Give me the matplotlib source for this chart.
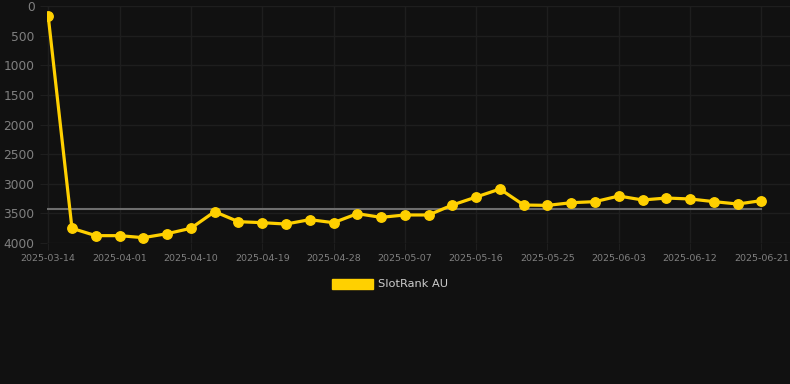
import numpy as np
import matplotlib.pyplot as plt
from matplotlib.patches import Patch

# data (rank, lower is better)
dates = ['2025-03-14', '2025-03-26', '2025-03-29', '2025-04-01', '2025-04-04', '2025-04-07',
         '2025-04-10', '2025-04-13', '2025-04-16', '2025-04-19', '2025-04-22', '2025-04-25',
         '2025-04-28', '2025-05-01', '2025-05-04', '2025-05-07', '2025-05-10', '2025-05-13',
         '2025-05-16', '2025-05-19', '2025-05-22', '2025-05-25', '2025-05-28', '2025-05-31',
         '2025-06-03', '2025-06-06', '2025-06-09', '2025-06-12', '2025-06-15', '2025-06-18',
         '2025-06-21']
rank = [170, 3752, 3876, 3876, 3910, 3843, 3752, 3471, 3640, 3657, 3680, 3606, 3657,
        3505, 3567, 3527, 3527, 3359, 3224, 3089, 3359, 3365, 3320, 3302, 3207, 3274,
        3241, 3257, 3302, 3342, 3285]
avg_rank = 3425
series_name = 'SlotRank AU'

bg = '#111111'
gridc = '#1e1e1e'
textc = '#808080'
gold = '#FFD000'

fig = plt.figure(figsize=(7.9, 3.84), dpi=100, facecolor=bg)
ax = fig.add_axes([47/790, 1-243/384, 1-47/790, 237/384])
ax.set_facecolor(bg)

x = np.arange(len(rank))
ax.plot([x[0], x[-1]], [avg_rank, avg_rank], color='#6e6e6e', lw=1.5, zorder=2)
ax.plot(x, rank, color=gold, lw=2.3, marker='o', ms=6.8, zorder=3)

ax.set_xlim(-0.05, 31.2)
ax.set_ylim(4000, 0)
ax.set_yticks(np.arange(0, 4001, 500))
ax.set_xticks(x[::3])
ax.set_xticklabels(dates[::3])
ax.grid(True, color=gridc, lw=1)
ax.set_axisbelow(True)
for s in ax.spines.values():
    s.set_visible(False)
ax.tick_params(axis='both', colors=gridc, labelcolor=textc, length=5)
ax.tick_params(axis='x', labelsize=6.8, pad=3)
ax.tick_params(axis='y', labelsize=8.8, pad=4)

handle = Patch(facecolor=gold, edgecolor=gold)
fig.legend([handle], [series_name], loc='center', bbox_to_anchor=(390/790, 1-284/384),
           frameon=False, labelcolor='#cccccc', fontsize=8.2, handlelength=3.6,
           handleheight=1.0, handletextpad=0.5)

fig.savefig('out.png', dpi=100, facecolor=bg)
